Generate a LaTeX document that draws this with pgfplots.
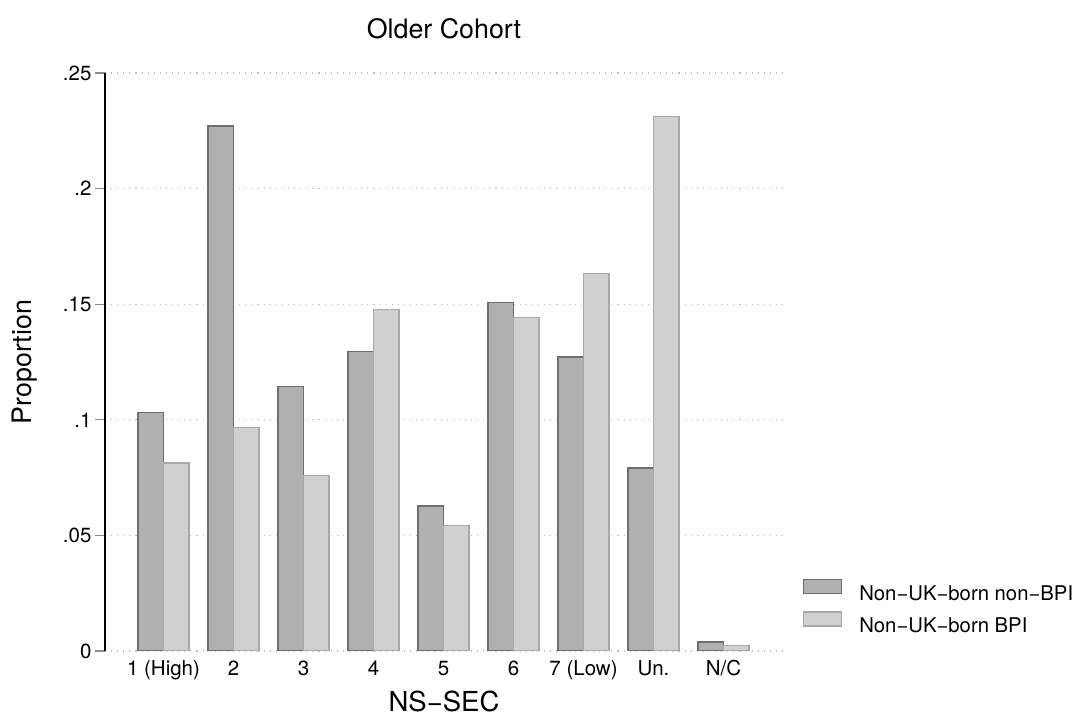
\documentclass[border=0pt]{standalone}
\usepackage{pgfplots}
\pgfplotsset{compat=1.18}
\usepackage{fontspec}
\setmainfont{TeX Gyre Heros}

\definecolor{darkfill}{HTML}{B0B0B0}
\definecolor{darkedge}{HTML}{6E6E6E}
\definecolor{lightfill}{HTML}{D0D0D0}
\definecolor{lightedge}{HTML}{A8A8A8}
\definecolor{gridgray}{HTML}{BEBEBE}
\definecolor{tickgray}{HTML}{8C8C8C}

% legend key: a plain rectangle sitting on the text baseline
\pgfplotsset{barkey/.style={legend image code/.code={\draw[##1] (0pt,0pt) rectangle (38pt,14pt);}}}

% NS-SEC categories at x = 0..8
\pgfplotstableread{
x  nonbpi  bpi
0  0.1031  0.0813
1  0.2271  0.0968
2  0.1143  0.0758
3  0.1294  0.1478
4  0.0627  0.0542
5  0.1506  0.1442
6  0.1272  0.1632
7  0.0792  0.2313
8  0.0039  0.0023
}\nssec

\begin{document}
\begin{tikzpicture}
\path[use as bounding box] (-105pt,-64pt) rectangle (980pt,651pt);
\begin{axis}[
  at={(0pt,0pt)}, anchor=south west,
  scale only axis,
  width=678pt, height=578pt,
  xmin=-0.836, xmax=8.85,
  ymin=0, ymax=0.25,
  axis x line*=bottom, axis y line*=left,
  x axis line style={draw=none},
  y axis line style={-, black, line width=1.1pt},
  xtick=data,
  xticklabels={1 (High),2,3,4,5,6,7 (Low),Un.,N/C},
  xtick style={draw=none},
  ytick={0,0.05,0.1,0.15,0.2,0.25},
  yticklabels={0,.05,.1,.15,.2,.25},
  ytick style={tickgray, line width=1.1pt},
  tick align=outside,
  major tick length=10pt,
  /pgf/number format/assume math mode=true,
  ticklabel style={font=\fontsize{20.5}{24}\selectfont},
  xticklabel style={anchor=base, yshift=-14pt},
  ymajorgrids,
  major grid style={gridgray, line width=1.1pt, dash pattern=on 1.1pt off 5pt},
  title={Older Cohort},
  title style={at={(axis description cs:0.5,1)}, anchor=base, yshift=28pt,
    font=\fontsize{26.8}{31}\selectfont},
  xlabel={NS−SEC},
  xlabel style={at={(axis description cs:0.5,0)}, anchor=base, yshift=-60pt,
    inner sep=0pt, outer sep=0pt,
    font=\fontsize{27.5}{32}\selectfont},
  ylabel={Proportion},
  ylabel style={at={(axis description cs:-0.1091,0.5)}, anchor=base,
    font=\fontsize{26.8}{31}\selectfont},
  legend style={at={(axis description cs:1.0295,0.1246)}, anchor=north west,
    draw=none, fill=none, inner sep=0pt, outer sep=0pt,
    row sep=9.5pt,
    font=\fontsize{20.3}{24}\selectfont,
    nodes={inner sep=0pt},
    /tikz/every odd column/.append style={column sep=17pt}},
  legend cell align=left,
]
\addplot[ybar, bar width=0.364, bar shift=-0.182,
  fill=darkfill, draw=darkedge, line width=1.3pt, barkey]
  table[x=x, y=nonbpi] {\nssec};
\addlegendentry{Non−UK−born non−BPI}
\addplot[ybar, bar width=0.364, bar shift=0.182,
  fill=lightfill, draw=lightedge, line width=1.3pt, barkey]
  table[x=x, y=bpi] {\nssec};
\addlegendentry{Non−UK−born BPI}
\end{axis}
\end{tikzpicture}
\end{document}
